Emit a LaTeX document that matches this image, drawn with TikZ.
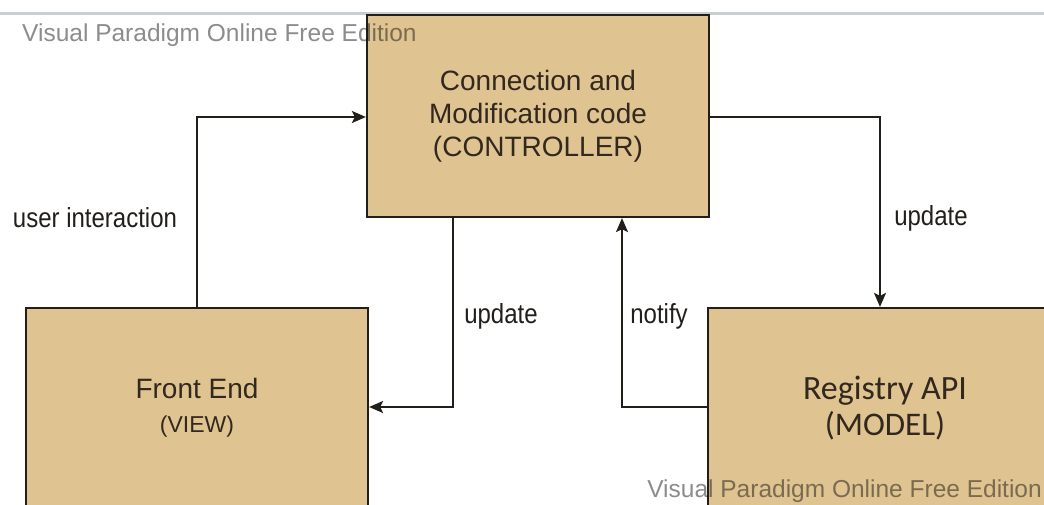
\documentclass[tikz,border=0pt]{standalone}
\usepackage{fontspec}
\usepackage{graphicx}
\setmainfont{Liberation Sans}
\newfontfamily\calib{Carlito}
\usetikzlibrary{arrows.meta}
\definecolor{boxtan}{RGB}{223,196,146}
\definecolor{inkdark}{RGB}{34,30,26}
\definecolor{rulegrey}{RGB}{200,205,210}
\tikzset{
  block/.style={draw=inkdark, line width=2.2pt, fill=boxtan, inner sep=0pt,
    align=center, text=inkdark!90!brown},
  flow/.style={draw=inkdark, line width=2pt,
    -{Stealth[length=14pt,width=12pt,inset=3pt]}},
  flowlabel/.style={inner sep=0pt, text=inkdark, font=\fontsize{24}{28}\selectfont},
  watermark/.style={inner sep=0pt, text=black, text opacity=0.45,
    font=\fontsize{24.5}{28}\selectfont}
}
\begin{document}
\begin{tikzpicture}[x=1pt,y=-1pt]
  \useasboundingbox (0,0) rectangle (1044,504);
  \clip (0,0) rectangle (1044,504);

  % header rule
  \draw[rulegrey, line width=3pt] (0,13) -- (1044,13);

  % the three components
  \node[block, minimum width=342pt, minimum height=202pt,
        font=\fontsize{28}{33}\selectfont] (ctrl) at (538,116)
        {Connection and\\Modification code\\(CONTROLLER)};
  \node[block, minimum width=342pt, minimum height=200pt,
        font=\fontsize{28}{33}\selectfont] (view) at (197,408)
        {Front End\\[1pt]{\fontsize{23}{28}\selectfont(VIEW)}};
  \node[block, minimum width=354pt, minimum height=200pt,
        font=\calib\fontsize{34}{36}\selectfont] (model) at (885,408)
        {Registry API\\{\fontsize{33}{36}\selectfont(MODEL)}};

  % bend points of the connectors
  \coordinate (uiTurn) at (197,117);
  \coordinate (upRTurn) at (880,117);
  \coordinate (upMTurn) at (453,407);
  \coordinate (ntTurn) at (622,407);

  % connectors
  \draw[flow] (view.north) -- (uiTurn) -- (ctrl.west |- uiTurn);
  \draw[flow] (ctrl.east |- upRTurn) -- (upRTurn) -- (model.north -| upRTurn);
  \draw[flow] (ctrl.south -| upMTurn) -- (upMTurn) -- (view.east |- upMTurn);
  \draw[flow] (model.west |- ntTurn) -- (ntTurn) -- (ctrl.south -| ntTurn);

  % connector labels
  \node[flowlabel] (lblUser) at (95,218) {\scalebox{1}[1.15]{user interaction}};
  \node[flowlabel] (lblUpdR) at (931,218) {\scalebox{1}[1.15]{update}};
  \node[flowlabel] (lblUpdM) at (501,316) {\scalebox{1}[1.15]{update}};
  \node[flowlabel] (lblNotify) at (659,316) {\scalebox{1}[1.15]{notify}};

  % edition marks
  \node[watermark, anchor=west] (wmTop) at (22,35) {Visual Paradigm Online Free Edition};
  \node[watermark, anchor=east] (wmBottom) at (1042,491) {Visual Paradigm Online Free Edition};
\end{tikzpicture}
\end{document}
